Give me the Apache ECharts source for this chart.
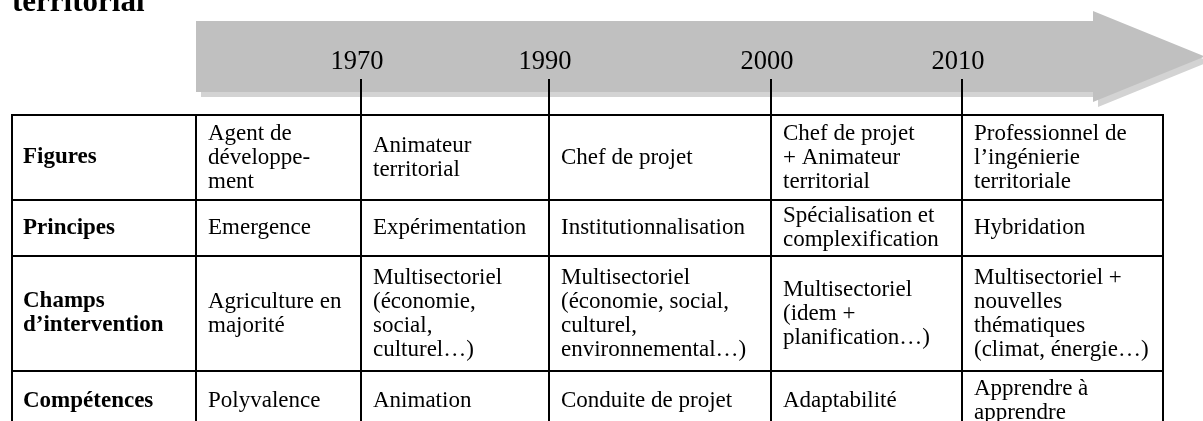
<!DOCTYPE html>
<html><head><meta charset="utf-8">
<script src="https://cdn.jsdelivr.net/npm/echarts@6/dist/echarts.min.js"></script>
<style>html,body{margin:0;padding:0;background:#fff}#c{width:1203px;height:421px}</style>
</head><body><div id="c"></div>
<script>
// ---------- content ----------
const titleText = 'territorial';
const years = ['1970', '1990', '2000', '2010'];
const rowHeaders = ['Figures', 'Principes', 'Champs\nd\u2019intervention', 'Compétences'];
const figures = ['Agent de\ndéveloppe-\nment', 'Animateur\nterritorial', 'Chef de projet', 'Chef de projet\n+ Animateur\nterritorial', 'Professionnel de\nl\u2019ingénierie\nterritoriale'];
const principes = ['Emergence', 'Expérimentation', 'Institutionnalisation', 'Spécialisation et\ncomplexification', 'Hybridation'];
const champs = ['Agriculture en\nmajorité', 'Multisectoriel\n(économie,\nsocial,\nculturel\u2026)', 'Multisectoriel\n(économie, social,\nculturel,\nenvironnemental\u2026)', 'Multisectoriel\n(idem +\nplanification\u2026)', 'Multisectoriel +\nnouvelles\nthématiques\n(climat, énergie\u2026)'];
const competences = ['Polyvalence', 'Animation', 'Conduite de projet', 'Adaptabilité', 'Apprendre à\napprendre'];

// ---------- layout (sizes, not data) ----------
const colWidths = [184, 165, 188, 222, 191, 201];
const rowHeights = [85, 56, 115, 60];
const layout = {
  gridLeft: 12, gridTop: 115, visibleH: 306,
  tickTop: -36, labelY: -53, labelDx: -4,
  bodyTop: -94, bodyBottom: -23, headX: 1081, headTop: -104, headBottom: -13, tipX: 1193, tipY: -58.5,
  shadow: 5, padX: 12, lineHeight: 24, fontSize: 23
};
const FONT = '"Liberation Serif", "Times New Roman", serif';

const colEdges = [0];
colWidths.forEach(w => colEdges.push(colEdges[colEdges.length - 1] + w));
const rowEdges = [0];
rowHeights.forEach(h => rowEdges.push(rowEdges[rowEdges.length - 1] + h));
const tableW = colEdges[colEdges.length - 1];

const rows = [figures, principes, champs, competences];
const cells = [];
rowHeaders.forEach((h, r) => {
  cells.push({ c: 0, r: r, text: h, bold: true });
  rows[r].forEach((t, i) => cells.push({ c: i + 1, r: r, text: t, bold: false }));
});

function renderCell(params, api) {
  const d = cells[params.dataIndex];
  const p0 = api.coord([colEdges[d.c], rowEdges[d.r]]);
  const p1 = api.coord([colEdges[d.c + 1], rowEdges[d.r + 1]]);
  return {
    type: 'group',
    children: [
      { type: 'rect', silent: true,
        shape: { x: p0[0], y: p0[1], width: p1[0] - p0[0], height: p1[1] - p0[1] },
        style: { fill: 'none', stroke: '#000', lineWidth: 2 } },
      { type: 'text', silent: true,
        style: {
          text: d.text, x: p0[0] + layout.padX - (d.c === 0 ? 1 : 0), y: (p0[1] + p1[1]) / 2,
          fill: '#000', font: (d.bold ? 'bold ' : '') + layout.fontSize + 'px ' + FONT,
          textAlign: 'left', align: 'left', textVerticalAlign: 'middle', verticalAlign: 'middle',
          lineHeight: layout.lineHeight
        } }
    ]
  };
}

function renderYear(params, api) {
  const x = colEdges[params.dataIndex + 2];
  const a = api.coord([x, layout.tickTop]);
  const b = api.coord([x, 0]);
  const l = api.coord([x, layout.labelY]);
  return {
    type: 'group',
    children: [
      { type: 'line', silent: true, shape: { x1: a[0], y1: a[1], x2: b[0], y2: b[1] },
        style: { stroke: '#000', lineWidth: 2 } },
      { type: 'text', silent: true,
        style: { text: years[params.dataIndex], x: l[0] + layout.labelDx, y: l[1], fill: '#000',
          font: '26.5px ' + FONT, textAlign: 'center', align: 'center',
          textVerticalAlign: 'middle', verticalAlign: 'middle' } }
    ]
  };
}

function renderArrow(params, api) {
  const pts = [
    [colEdges[1], layout.bodyTop], [layout.headX, layout.bodyTop], [layout.headX, layout.headTop],
    [layout.tipX, layout.tipY], [layout.headX, layout.headBottom], [layout.headX, layout.bodyBottom],
    [colEdges[1], layout.bodyBottom]
  ].map(p => api.coord(p));
  const s = layout.shadow;
  return {
    type: 'group',
    children: [
      { type: 'polygon', silent: true, shape: { points: pts.map(p => [p[0] + s, p[1] + s]) }, style: { fill: '#d3d3d3' } },
      { type: 'polygon', silent: true, shape: { points: pts }, style: { fill: '#c0c0c0' } }
    ]
  };
}

const chart = echarts.init(document.getElementById('c'), null, { renderer: 'canvas' });
chart.setOption({
  animation: false,
  backgroundColor: '#fff',
  title: { text: titleText, left: 12, top: -13, padding: 0,
    textStyle: { fontFamily: FONT, fontSize: 31, fontWeight: 'bold', color: '#000' } },
  grid: { left: layout.gridLeft, top: layout.gridTop, width: tableW, height: layout.visibleH },
  xAxis: { type: 'value', min: 0, max: tableW, show: false },
  yAxis: { type: 'value', min: 0, max: layout.visibleH, inverse: true, show: false },
  tooltip: { show: false },
  series: [
    { type: 'custom', name: 'arrow', clip: false, renderItem: renderArrow, data: [[0, 0]], z: 1 },
    { type: 'custom', name: 'years', clip: false, renderItem: renderYear, data: years.map((y, i) => [colEdges[i + 2], 0]), z: 2 },
    { type: 'custom', name: 'table', clip: false, renderItem: renderCell, data: cells.map(d => [colEdges[d.c], rowEdges[d.r]]), z: 3 }
  ]
});
</script>
</body></html>
